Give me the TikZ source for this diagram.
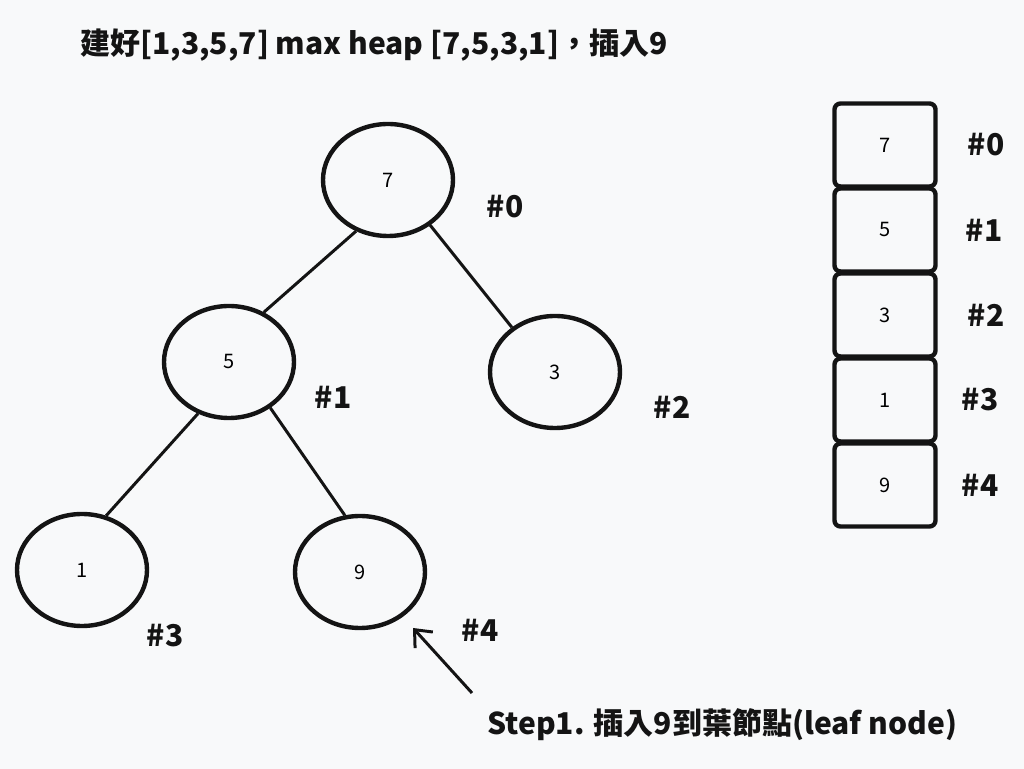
\documentclass[tikz,border=0pt]{standalone}
\usepackage{fontspec}
\setmainfont{Noto Sans CJK TC}
\usetikzlibrary{arrows.meta,positioning,shapes.geometric}
\definecolor{hui}{RGB}{248,249,250}
\definecolor{mo}{RGB}{20,20,20}
\tikzset{
  jiedian/.style={draw=mo,ellipse,line width=2.2pt,minimum width=65pt,minimum height=56pt,inner sep=0pt,
                  font=\fontsize{10}{12}\selectfont},
  gezi/.style={draw=mo,line width=2.2pt,rounded corners=3pt,minimum width=50.5pt,minimum height=41.5pt,
               inner sep=0pt,outer sep=0pt,font=\fontsize{10}{12}\selectfont},
  biaoqian/.style={font=\fontsize{15}{18}\selectfont\bfseries,text=mo,inner sep=0pt},
  bian/.style={draw=mo,line width=1.5pt},
  jiantou/.style={-{Straight Barb[length=7pt,width=12pt]},line width=1.5pt,draw=mo},
}

\begin{document}
\begin{tikzpicture}[x=0.5pt,y=-0.5pt]
  \fill[hui] (0,0) rectangle (1024,769);
  \useasboundingbox (0,0) rectangle (1024,769);
  \node[biaoqian,anchor=west] (tt) at (80,45) {建好[1,3,5,7] max heap [7,5,3,1]，插入9};
  % heap tree
  \node[jiedian] (n0) at (388,180) {7};
  \node[jiedian] (n1) at (229,362) {5};
  \node[jiedian] (n2) at (555,372) {3};
  \node[jiedian] (n3) at (82,570) {1};
  \node[jiedian] (n4) at (360,572) {9};
  \draw[bian] (n0.238) -- (n1.55);
  \draw[bian] (n0.313) -- (n2.134);
  \draw[bian] (n1.239) -- (n3.66);
  \draw[bian] (n1.312) -- (n4.105);
  \node[biaoqian] (h0) at (505,207) {\#0};
  \node[biaoqian] (h1) at (333,397) {\#1};
  \node[biaoqian] (h2) at (672,407) {\#2};
  \node[biaoqian] (h3) at (165,636) {\#3};
  \node[biaoqian] (h4) at (480,630) {\#4};
  % array
  \node[gezi] (g0) at (885,145) {7};
  \node[gezi,below=1pt of g0] (g1) {5};
  \node[gezi,below=1pt of g1] (g2) {3};
  \node[gezi,below=1pt of g2] (g3) {1};
  \node[gezi,below=1pt of g3] (g4) {9};
  \node[biaoqian,right=16pt of g0] (k0) {\#0};
  \node[biaoqian,right=15pt of g1] (k1) {\#1};
  \node[biaoqian,right=16pt of g2] (k2) {\#2};
  \node[biaoqian,right=13pt of g3] (k3) {\#3};
  \node[biaoqian,right=13pt of g4] (k4) {\#4};
  % step
  \node[biaoqian,anchor=west] (st) at (487,725) {Step1. 插入9到葉節點(leaf node)};
  \coordinate (wei) at (472,693);
  \coordinate (jian) at (413,628);
  \draw[jiantou] (wei) -- (jian);
\end{tikzpicture}
\end{document}
